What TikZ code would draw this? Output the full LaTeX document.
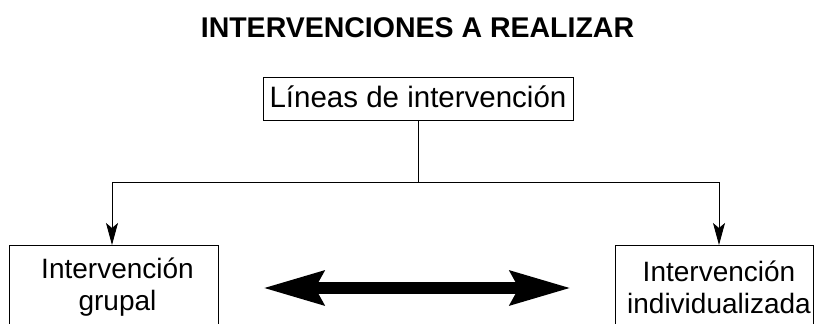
\documentclass[tikz,border=0pt]{standalone}
\usepackage{fontspec}
\setmainfont{Liberation Sans}
\usetikzlibrary{arrows.meta}
\begin{document}
\begin{tikzpicture}[x=1pt,y=-1pt,
  boxnode/.style={draw=black,line width=0.9pt,inner sep=0pt,minimum height=43pt},
  lowbox/.style={draw=black,line width=0.9pt,inner sep=0pt,anchor=north,minimum height=120pt},
  boxtext/.style={align=center,inner sep=0pt,font=\fontsize{28}{32}\selectfont},
  conn/.style={line width=0.9pt,-{Stealth[length=22pt,width=12pt,inset=5pt]}},
  bigarrow/.style={line width=12pt,{Stealth[length=60pt,width=33pt,inset=8pt]}-{Stealth[length=60pt,width=33pt,inset=8pt]}}]
\useasboundingbox (0,0) rectangle (815,324);
\clip (0,0) rectangle (815,324);
\node[anchor=base,inner sep=0pt,font=\fontsize{28.5}{32}\selectfont\bfseries] (title) at (417.5,37) {INTERVENCIONES A REALIZAR};
\node[boxnode,minimum width=310pt,text height=21pt,text depth=4pt,font=\fontsize{29.5}{34}\selectfont] (lineas) at (418,98.5) {Líneas de intervención};
\node[lowbox,minimum width=209pt] (grupal) at (113.5,245) {};
\node[lowbox,minimum width=198pt] (indiv) at (714,245) {};
\node[boxtext] (grupaltxt) at (117.5,287) {Intervención\\grupal};
\node[boxtext] (indivtxt) at (719,287) {Intervención\\individualizada};
\coordinate (split) at (418,182);
\draw[line width=0.9pt] (lineas.south) -- (split);
\draw[conn] (split) -| ([xshift=-1.5pt]grupal.north);
\draw[conn] (split) -| ([xshift=5pt]indiv.north);
\coordinate (bl) at (263,288);
\coordinate (br) at (571,288);
\draw[bigarrow] (bl) -- (br);
\end{tikzpicture}
\end{document}
